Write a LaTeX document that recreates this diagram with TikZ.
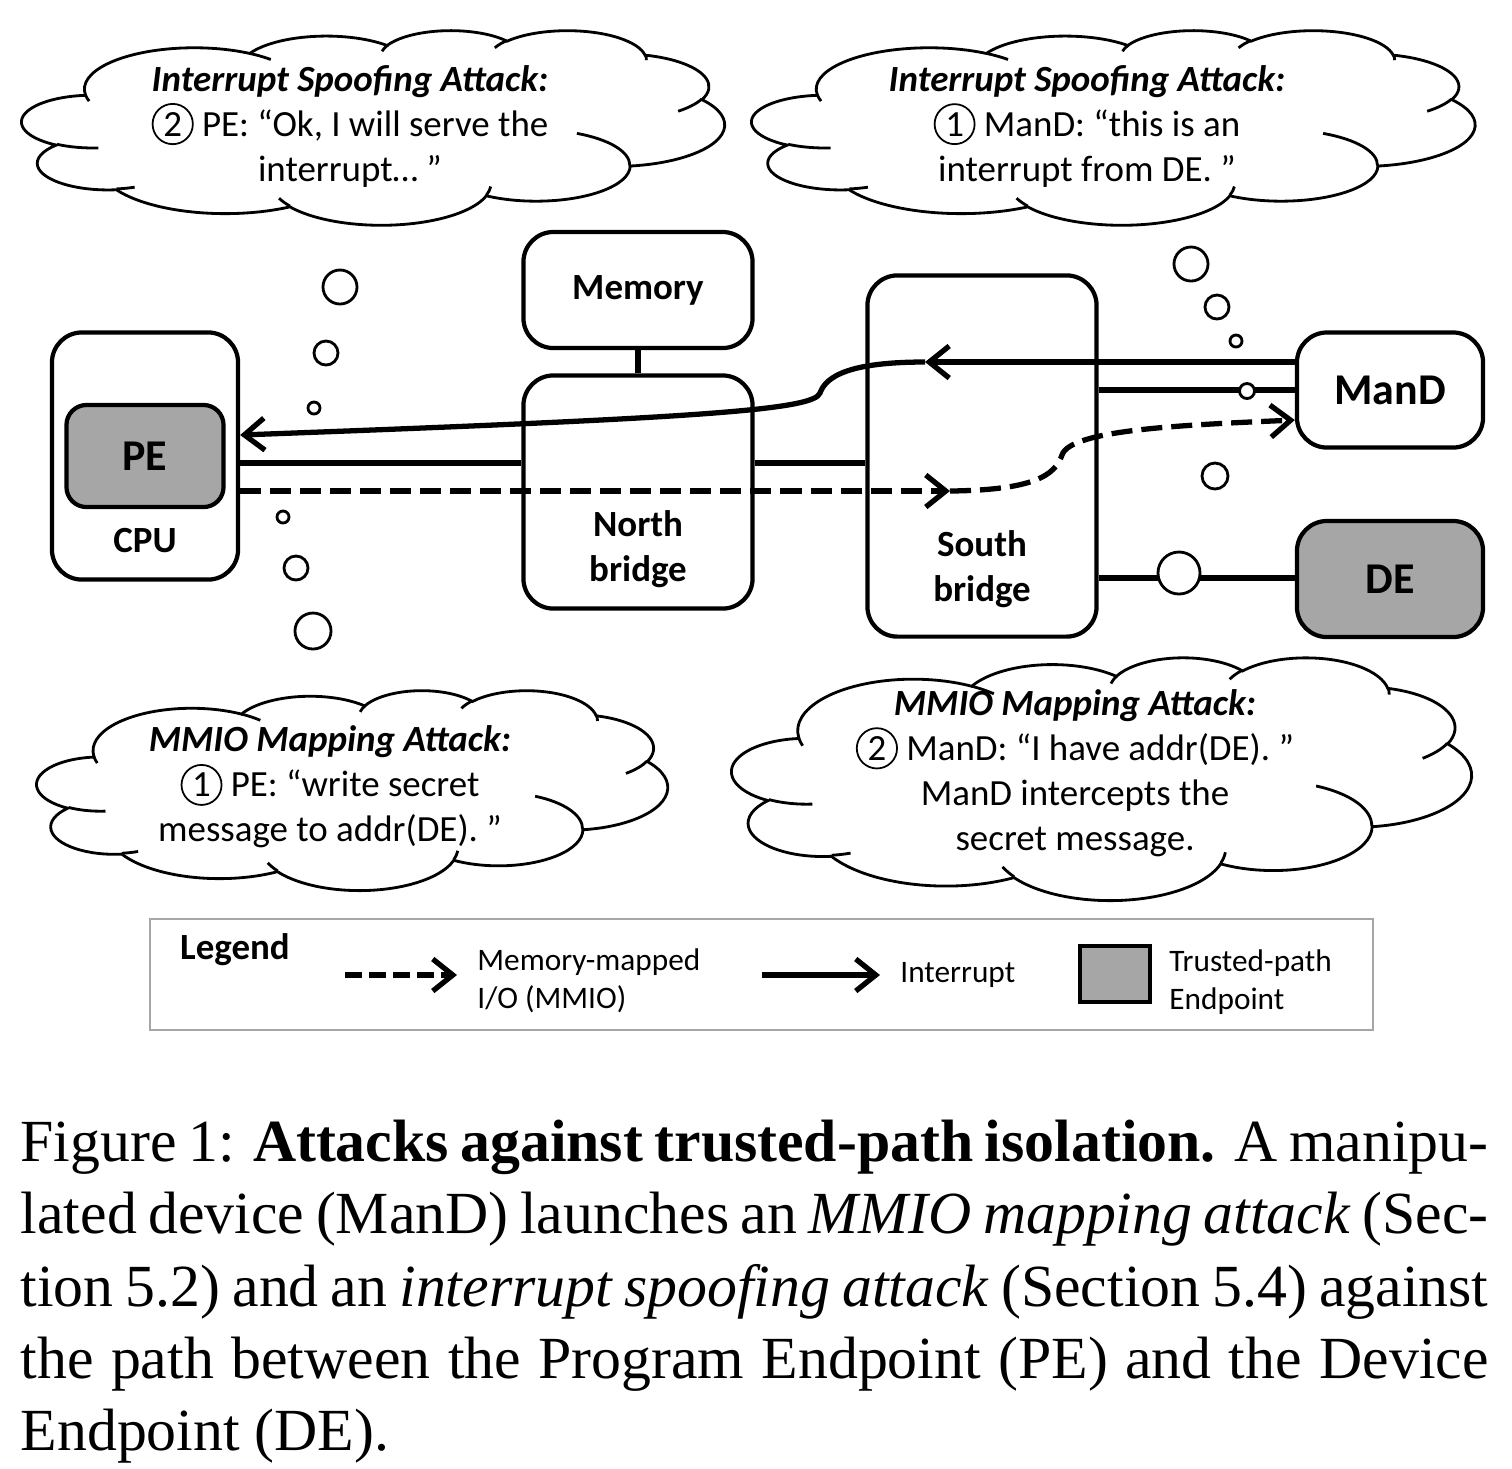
\documentclass[tikz,border=0pt]{standalone}
\usepackage{fontspec}
\setmainfont{Carlito}
\newfontfamily\capfont{Liberation Serif}
\usetikzlibrary{arrows.meta}

\definecolor{endgray}{HTML}{A6A6A6}
\newcommand{\numcirc}[1]{\tikz[baseline=(n.base)]\node[draw,circle,inner sep=1pt,line width=0.5pt](n){#1};}

% one puff of a cloud: x radius, y radius, start and sweep (seen) angles
\newcommand{\pparc}[4]{%
    \pgfextra{%
        \pgfmathsetmacro\arcts{atan2((#1)*sin(#3), (#2)*cos(#3))}%
        \pgfmathsetmacro\arcte{atan2((#1)*sin((#3)+(#4)), (#2)*cos((#3)+(#4)))}%
        \pgfmathsetmacro\arcdl{mod(\arcte-\arcts+720, 360)}%
        \global\let\arcts\arcts \global\let\arcdl\arcdl}%
    arc[start angle=\arcts, delta angle=\arcdl, x radius=#1, y radius=#2]}

\newcommand{\cloudoutline}{(39,143.7)
    \pparc{67.53}{91.90}{-190.4875}{123.7805}
    \pparc{53.33}{72.67}{-144.1024}{89.9452}
    \pparc{43.65}{59.45}{-145.8079}{99.7230}
    \pparc{48.57}{65.95}{-130.9861}{117.2417}
    \pparc{53.33}{72.73}{-78.7089}{109.0269}
    \pparc{67.75}{92.20}{-46.2673}{130.2690}
    \pparc{57.85}{78.67}{0.6250}{114.0333}
    \pparc{67.52}{92.15}{22.4516}{115.1726}
    \pparc{77.20}{105.43}{66.2426}{75.7110}
    \pparc{43.60}{59.18}{-274.9421}{146.7356}
    \pparc{43.45}{59.45}{-246.8285}{152.5189} -- cycle}

\newcommand{\cloudcreases}{
    (46.93,261.77) \pparc{43.45}{59.45}{86.742}{26.4295}
    (69.28,348.99) \pparc{43.60}{59.18}{73.6105}{11.4475}
    (164.78,390.90) \pparc{67.52}{92.15}{137.6242}{14.0811}
    (288.27,347.51) \pparc{67.52}{92.15}{6.4533}{15.9984}
    (341.29,229.54) \pparc{57.85}{78.67}{-70.2924}{70.9174}
    (417.98,153.54) \pparc{53.33}{72.73}{30.3180}{27.7515}
    (383.24,54.26) \pparc{48.57}{65.95}{-13.7443}{14.8589}
    (290.78,39.52) \pparc{48.57}{65.95}{-149.1815}{18.1954}
    (221.41,47.20) \pparc{43.65}{59.45}{-163.4943}{17.6864}
    (140.00,51.92) \pparc{67.53}{91.90}{-66.7070}{12.3194}
    (41.27,157.89) \pparc{67.53}{91.90}{157.6544}{11.8582}}

% cloud in the box with top left corner (#1,#2), width #3, height #4 (px)
\newcommand{\thoughtcloud}[4]{%
    \pgfmathsetmacro\cldx{#3/432*0.01}%
    \pgfmathsetmacro\cldy{#4/432*0.01}%
    \begin{scope}[shift={(#1,#2)}, x=\cldx cm, y=-\cldy cm]
        \draw[thought] \cloudoutline;
        \draw[thought] \cloudcreases;
    \end{scope}}

\tikzset{
    unit/.style={draw, line width=1.2pt, rounded corners=0.3cm, fill=white, font=\fontsize{10.5}{12.8}\selectfont\bfseries, align=center},
    endpt/.style={unit, fill=endgray, rounded corners=0.2cm},
    link/.style={line width=1.5pt},
    intr/.style={link, -{Straight Barb[length=2mm,width=3.2mm,line width=1.5pt]}},
    mmio/.style={intr, dash pattern=on 0.21cm off 0.09cm},
    bubble/.style={draw, circle, line width=0.8pt, fill=white, inner sep=0pt},
    thought/.style={line width=0.8pt},
    cloudtxt/.style={align=center, font=\fontsize{10.5}{12.8}\selectfont},
    legtxt/.style={align=left, font=\fontsize{8.9}{10.8}\selectfont}
}

\begin{document}
\begin{tikzpicture}[x=0.01cm, y=-0.01cm]

    \useasboundingbox (0,0) rectangle (1512,1468);

    % Thought clouds
    \thoughtcloud{22}{30}{703}{195}
    \node[cloudtxt] (txttl) at (350,126) {\textbf{\textit{Interrupt Spoofing Attack:}}\\\numcirc{2} PE: “Ok, I will serve the\\interrupt… ”};

    \thoughtcloud{752}{30}{723}{195}
    \node[cloudtxt] (txttr) at (1087,126) {\textbf{\textit{Interrupt Spoofing Attack:}}\\\numcirc{1} ManD: “this is an\\interrupt from DE. ”};

    \thoughtcloud{37}{690}{631}{200}
    \node[cloudtxt] (txtbl) at (330,787) {\textbf{\textit{MMIO Mapping Attack:}}\\\numcirc{1} PE: “write secret\\message to addr(DE). ”};

    \thoughtcloud{732}{657}{740}{243}
    \node[cloudtxt] (txtbr) at (1075,773) {\textbf{\textit{MMIO Mapping Attack:}}\\\numcirc{2} ManD: “I have addr(DE). ”\\ManD intercepts the\\secret message.};

    % Boxes
    \node[unit, minimum width=1.86cm, minimum height=2.47cm] (cpu) at (145,456) {};
    \node[endpt, minimum width=1.57cm, minimum height=1.02cm, font=\fontsize{12.5}{15}\selectfont\bfseries] (pe) at (145,456) {PE};
    \node[font=\fontsize{10.5}{12.8}\selectfont\bfseries] (cputxt) at (145,541) {CPU};

    \node[unit, minimum width=2.29cm, minimum height=1.16cm] (mem) at (638,290) {Memory};
    \node[unit, minimum width=2.29cm, minimum height=2.33cm] (nb) at (638,492) {};
    \node[unit, minimum width=2.29cm, minimum height=3.61cm] (sb) at (982,456) {};
    \node[unit, minimum width=1.86cm, minimum height=1.15cm, font=\fontsize{12.5}{15}\selectfont\bfseries] (mand) at (1390,390) {ManD};
    \node[endpt, rounded corners=0.3cm, minimum width=1.86cm, minimum height=1.16cm, font=\fontsize{12.5}{15}\selectfont\bfseries] (de) at (1390,579) {DE};

    % Rows of the links
    \coordinate (rowintr) at (0,435);
    \coordinate (rowbus) at (0,463);
    \coordinate (rowmmio) at (0,491);
    \coordinate (rowmandin) at (0,362);
    \coordinate (rowmand) at (0,390);
    \coordinate (rowmandout) at (0,420);
    \coordinate (rowde) at (0,578);
    \coordinate (sbkink) at (925,362);
    \coordinate (sbturn) at (950,491);

    % Plain links
    \draw[link] (mem) -- (nb);
    \draw[link] (cpu.east |- rowbus) -- (nb.west |- rowbus);
    \draw[link] (nb.east |- rowbus) -- (sb.west |- rowbus);
    \draw[link] (sb.east |- rowmand) -- (mand.west |- rowmand);
    \draw[link] (sb.east |- rowde) -- (de.west |- rowde);

    % Spoofed interrupt
    \draw[intr] (mand.west |- rowmandin) -- (sbkink);
    \draw[intr] (sbkink) .. controls (850,362) and (826,376) .. (820,393)
        .. controls (814,410) and (700,418) .. (cpu.east |- rowintr);

    % Redirected MMIO
    \draw[mmio] (cpu.east |- rowmmio) -- (sbturn);
    \draw[mmio] (sbturn) .. controls (1035,490) and (1055,475) .. (1062,455)
        .. controls (1070,430) and (1180,425) .. (mand.west |- rowmandout);

    \node[font=\fontsize{10.5}{12.8}\selectfont\bfseries, align=center] (nbtxt) at (638,549) {North\\bridge};
    \node[font=\fontsize{10.5}{12.8}\selectfont\bfseries, align=center] (sbtxt) at (982,569) {South\\bridge};

    % Bubbles
    \foreach \x/\y/\d [count=\i] in {340/287/0.34, 326/353/0.24, 314/408/0.12,
        283/517/0.12, 296/568/0.24, 313/631/0.36,
        1191/264/0.34, 1217/307/0.24, 1236/341/0.12, 1247/391/0.15,
        1215/476/0.26, 1179/573/0.42}{
        \node[bubble, minimum size=\d cm] (bub\i) at (\x,\y) {};
    }

    % Legend
    \node[draw=gray!70, line width=0.6pt, minimum width=12.23cm, minimum height=1.11cm] (legend) at (761.5,974.5) {};
    \node[font=\fontsize{10.5}{12.8}\selectfont\bfseries] (legtitle) at (235,950) {Legend};
    \coordinate (legmmio) at (345,975);
    \node[legtxt, anchor=west] (legmmiotxt) at (465,981) {Memory-mapped\\I/O (MMIO)};
    \draw[mmio, dash pattern=on 0.17cm off 0.07cm] (legmmio) -- ([xshift=-0.08cm]legmmio -| legmmiotxt.west);
    \coordinate (legintr) at (762,975);
    \node[legtxt, anchor=west] (legintrtxt) at (888,975) {Interrupt};
    \draw[intr] (legintr) -- ([xshift=-0.08cm]legintr -| legintrtxt.west);
    \node[draw, fill=endgray, line width=1.2pt, minimum width=0.7cm, minimum height=0.56cm] (legsq) at (1115,974) {};
    \node[legtxt, anchor=west] (legsqtxt) at (1157,982) {Trusted-path\\Endpoint};

    % Caption
    \node[anchor=north west, inner sep=0pt, text width=14.67cm, align=justify,
        font=\capfont\fontsize{17}{20.6}\selectfont] (caption) at (20,1119)
        {Figure 1: \textbf{Attacks against trusted-path isolation.} A manipu-\linebreak
        lated device (ManD) launches an \textit{MMIO mapping attack} (Sec-\linebreak
        tion 5.2) and an \textit{interrupt spoofing attack} (Section 5.4) against\linebreak
        the path between the Program Endpoint (PE) and the Device\linebreak
        Endpoint (DE).};

\end{tikzpicture}
\end{document}
